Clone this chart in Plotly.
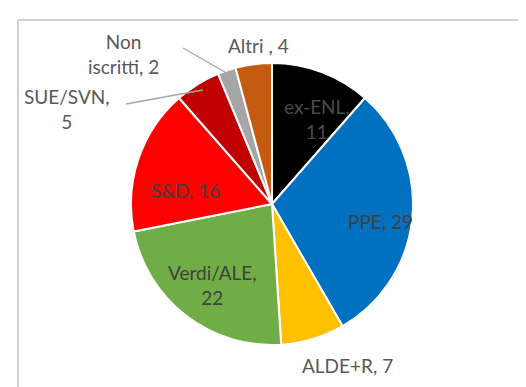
import plotly.graph_objects as go

labels = ["ex-ENL", "PPE", "ALDE+R", "Verdi/ALE", "S&D", "SUE/SVN", "Non iscritti", "Altri "]
values = [11, 29, 7, 22, 16, 5, 2, 4]
colors = ["#000000", "#0070C0", "#FFC000", "#70AD47", "#FF0000", "#C00000", "#A5A5A5", "#C55A11"]

W, H = 526, 387
cx, cy, r = 264, 196, 141

fig = go.Figure(go.Pie(
    labels=labels, values=values, sort=False, direction="clockwise", rotation=0,
    marker=dict(colors=colors, line=dict(color="white", width=2)),
    textinfo="none", hoverinfo="label+value", showlegend=False,
    domain=dict(x=[(cx - r) / W, (cx + r) / W], y=[(H - cy - r) / H, (H - cy + r) / H]),
))

# label positions (pixels), text built from data
label_pos = {
    "ex-ENL": (309, 111, "ex-ENL,<br>{v}", "#4a4a4a"),
    "PPE": (372, 213, "PPE, {v}", "#404040"),
    "ALDE+R": (339, 357, "ALDE+R, {v}", "#595959"),
    "Verdi/ALE": (204, 277, "Verdi/ALE,<br>{v}", "#404040"),
    "S&D": (177, 183, "S&D, {v}", "#404040"),
    "SUE/SVN": (59, 101, "SUE/SVN,<br>{v}", "#595959"),
    "Non iscritti": (115, 46, "Non<br>iscritti, {v}", "#595959"),
    "Altri ": (250, 37, "Altri , {v}", "#595959"),
}
annotations = []
for lab, val in zip(labels, values):
    x, y, tpl, col = label_pos[lab]
    annotations.append(dict(
        x=x / W, y=1 - y / H, xref="paper", yref="paper", showarrow=False,
        text=tpl.format(v=val), font=dict(family="Lato, sans-serif", size=19, color=col),
        xanchor="center", yanchor="middle", align="center",
    ))

def px_line(x0, y0, x1, y1):
    return dict(type="line", xref="paper", yref="paper",
                x0=x0 / W, y0=1 - y0 / H, x1=x1 / W, y1=1 - y1 / H,
                line=dict(color="#A6A6A6", width=1.3))

shapes = [
    dict(type="line", xref="paper", yref="paper", x0=10 / W, y0=0, x1=10 / W, y1=1 - 12 / H,
         line=dict(color="#CFCFCF", width=2)),
    dict(type="line", xref="paper", yref="paper", x0=10 / W, y0=1 - 12 / H, x1=1, y1=1 - 12 / H,
         line=dict(color="#CFCFCF", width=2)),
    px_line(118, 96, 195, 82),
    px_line(175, 40, 222, 67),
]

fig.update_layout(
    width=W, height=H, margin=dict(l=0, r=0, t=0, b=0),
    paper_bgcolor="white", plot_bgcolor="white",
    annotations=annotations, shapes=shapes,
)
fig.write_html("out.html")
